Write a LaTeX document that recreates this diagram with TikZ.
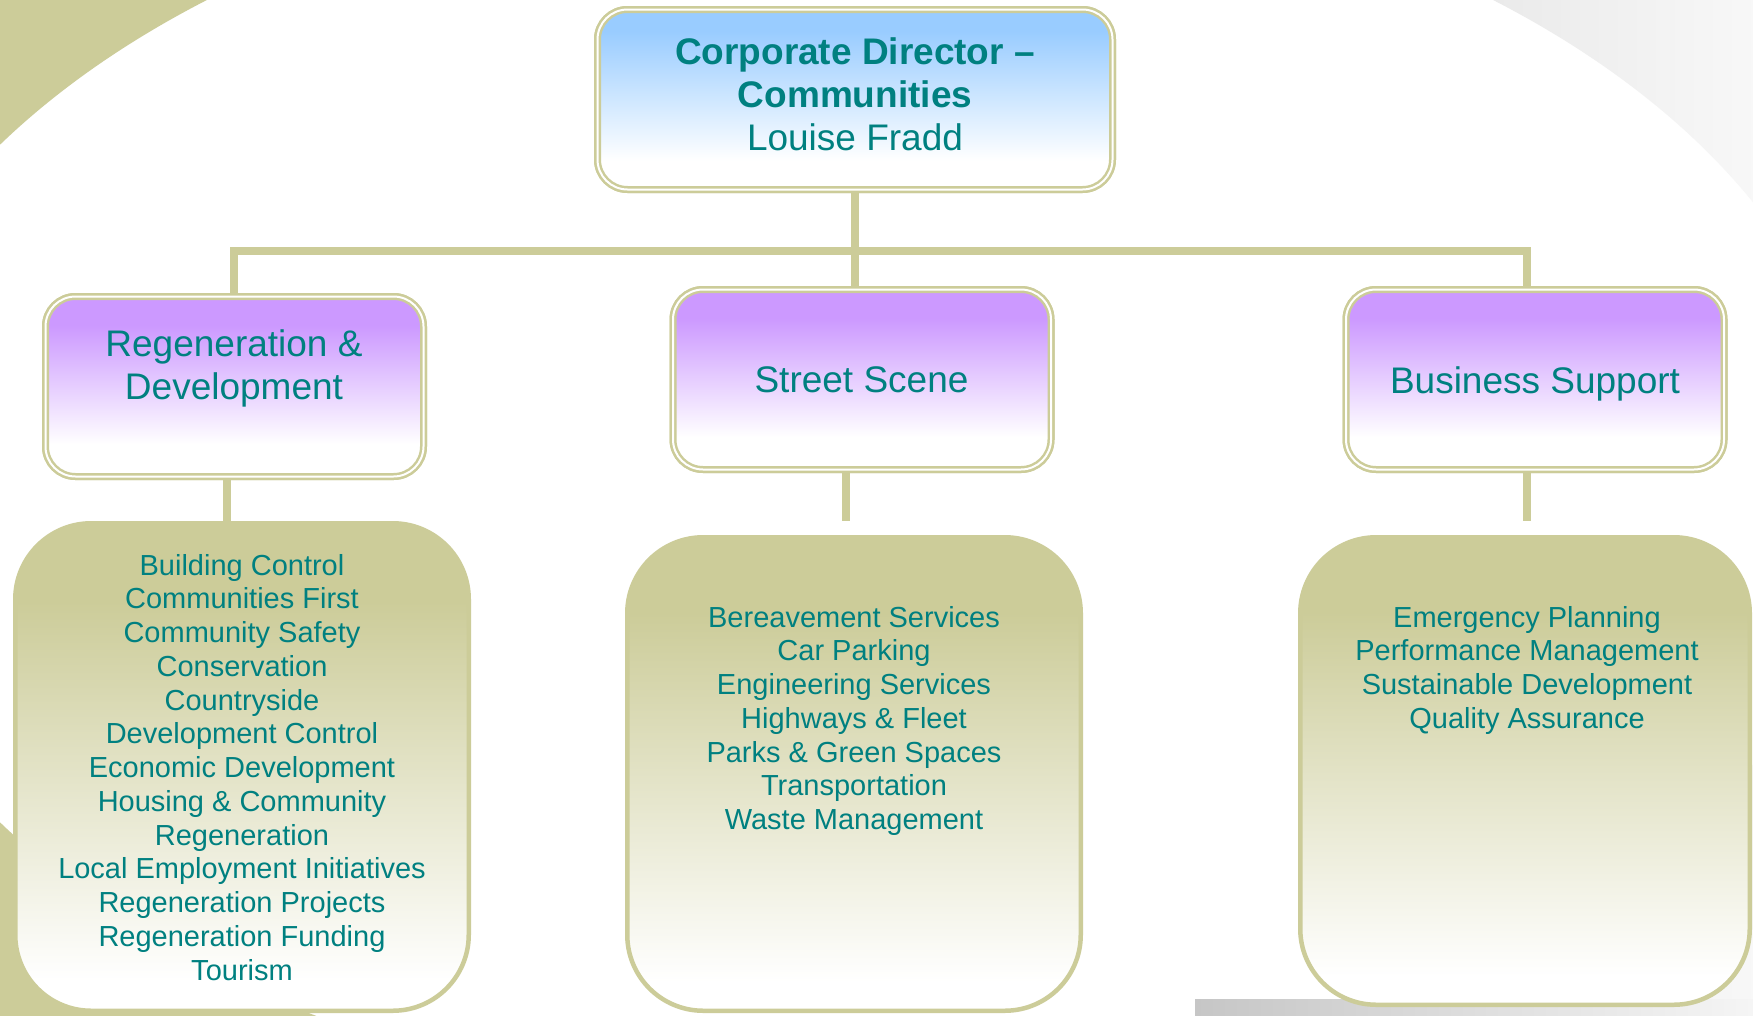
\documentclass[tikz,border=0pt]{standalone}
\usepackage{fontspec}
\setmainfont{Liberation Sans}
\definecolor{khaki}{RGB}{204,204,153}
\definecolor{purp}{RGB}{204,153,255}
\definecolor{skyb}{RGB}{153,204,255}
\definecolor{tealtxt}{RGB}{0,128,128}
\definecolor{greyA}{RGB}{228,228,228}
\definecolor{greyB}{RGB}{248,248,248}
\definecolor{stripA}{RGB}{198,198,198}
\definecolor{stripB}{RGB}{245,245,245}
\pgfdeclareverticalshading{purpshade}{100bp}{color(0bp)=(white); color(34bp)=(white); color(67bp)=(purp); color(100bp)=(purp)}
\pgfdeclareverticalshading{blueshade}{100bp}{color(0bp)=(white); color(33bp)=(white); color(69bp)=(skyb); color(100bp)=(skyb)}
\pgfdeclareverticalshading{khakishade}{100bp}{color(0bp)=(white); color(28bp)=(white); color(67bp)=(khaki); color(100bp)=(khaki)}
\tikzset{
  conn/.style={draw=khaki, line width=8pt},
  headbox/.style={rectangle, rounded corners=30pt, draw=khaki, line width=2.5pt,
    double=white, double distance=2pt, inner sep=0pt},
  listbox/.style={rectangle, rounded corners=76pt, draw=khaki, line width=4.5pt,
    shade, shading=khakishade, inner sep=0pt},
  txt/.style={text=tealtxt, anchor=north, inner sep=0pt, align=center},
  bigtxt/.style={txt, font=\fontsize{37}{43}\selectfont},
  smalltxt/.style={txt, font=\fontsize{29}{33.75}\selectfont},
}
\begin{document}
\begin{tikzpicture}[x=1pt, y=-1pt]
\useasboundingbox (0,0) rectangle (1753,1015);
\fill[white] (0,0) rectangle (1753,1015);
% background: white ellipse, khaki outside on the left, grey outside on the right
\begin{scope}
  \clip (0,0) rectangle (850,1015);
  \fill[khaki, even odd rule] (-100,-100) rectangle (950,1115)
    (850,483.5) ellipse [x radius=1010, y radius=627];
\end{scope}
\begin{scope}
  \clip (850,0) rectangle (1753,1015);
  \begin{scope}[even odd rule]
    \clip (800,-100) rectangle (1900,1115) (850,483.5) ellipse [x radius=1010, y radius=627];
    \shade[left color=greyA, right color=greyB] (1380,-10) rectangle (1760,1025);
  \end{scope}
\end{scope}
\shade[left color=stripA, right color=stripB] (1195,999) rectangle (1753,1015);

% boxes
\node[headbox, shade, shading=blueshade, minimum width=515pt, minimum height=180pt] (top) at (855,99.5) {};
\node[headbox, shade, shading=purpshade, minimum width=378pt, minimum height=180pt] (rd) at (234.5,386.5) {};
\node[headbox, shade, shading=purpshade, minimum width=378pt, minimum height=180pt] (ss) at (862,379.5) {};
\node[headbox, shade, shading=purpshade, minimum width=378pt, minimum height=180pt] (bs) at (1535,379.5) {};

\node[listbox, minimum width=453.5pt, minimum height=487.5pt] (rdl) at (242,767) {};
\node[listbox, minimum width=453.5pt, minimum height=473.5pt] (ssl) at (854,774) {};
\node[listbox, minimum width=449.5pt, minimum height=467.5pt] (bsl) at (1525,771) {};

% connectors
\coordinate (busL) at (234,251);
\coordinate (busR) at (1527,251);
\draw[conn] (top.south) -- (top.south |- ss.north);
\draw[conn] (busL |- rd.north) -- (busL) -- (busR) -- (busR |- bs.north);
\draw[conn] ([xshift=-7.5pt]rd.south) -- ([xshift=-7.5pt]rd.south |- rdl.north);
\draw[conn, shorten >=14pt] ([xshift=-16pt]ss.south) -- ([xshift=-16pt]ss.south |- ssl.north);
\draw[conn, shorten >=14pt] ([xshift=-8pt]bs.south) -- ([xshift=-8pt]bs.south |- bsl.north);

% head boxes drawn again over the connector ends
\node[headbox, shade, shading=blueshade, minimum width=515pt, minimum height=180pt] (top2) at (top) {};
\node[headbox, shade, shading=purpshade, minimum width=378pt, minimum height=180pt] (rd2) at (rd) {};
\node[headbox, shade, shading=purpshade, minimum width=378pt, minimum height=180pt] (ss2) at (ss) {};
\node[headbox, shade, shading=purpshade, minimum width=378pt, minimum height=180pt] (bs2) at (bs) {};

% texts
\node[bigtxt] (topT) at (855,37) {\textbf{Corporate Director –}\\\textbf{Communities}\\Louise Fradd};
\node[bigtxt] (rdT) at (234,329.5) {Regeneration \&\\Development};
\node[bigtxt] (ssT) at (861.5,366) {Street Scene};
\node[bigtxt] (bsT) at (1535,366) {Business Support};

\node[smalltxt] (rdlT) at (242,554) {Building Control\\Communities First\\Community Safety\\Conservation\\Countryside\\Development Control\\Economic Development\\Housing \& Community\\Regeneration\\Local Employment Initiatives\\Regeneration Projects\\Regeneration Funding\\Tourism};
\node[smalltxt] (sslT) at (854,606) {Bereavement Services\\Car Parking\\Engineering Services\\Highways \& Fleet\\Parks \& Green Spaces\\Transportation\\Waste Management};
\node[smalltxt] (bslT) at (1527,606) {Emergency Planning\\Performance Management\\Sustainable Development\\Quality Assurance};
\end{tikzpicture}
\end{document}
